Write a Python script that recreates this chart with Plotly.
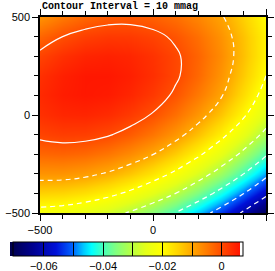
import plotly.graph_objects as go

# grid coordinates (same for x and y)
x_vals = [-500, -400, -300, -200, -100, 0, 100, 200, 300, 400, 500]
y_vals = [-500, -400, -300, -200, -100, 0, 100, 200, 300, 400, 500]

# field values (mag), rows from y=-500 to y=500, columns from x=-500 to x=500
z_rows = [
    [-0.02242, -0.02318, -0.02482, -0.02735, -0.03076, -0.03505, -0.04023, -0.04629, -0.05324, -0.06107, -0.06978],
    [-0.01438, -0.01478, -0.01606, -0.01822, -0.02127, -0.02520, -0.03002, -0.03571, -0.04230, -0.04977, -0.05812],
    [-0.00780, -0.00783, -0.00875, -0.01055, -0.01324, -0.01681, -0.02126, -0.02660, -0.03282, -0.03992, -0.04791],
    [-0.00268, -0.00235, -0.00290, -0.00434, -0.00666, -0.00987, -0.01396, -0.01893, -0.02479, -0.03153, -0.03916],
    [0.00099, 0.00169, 0.00149, 0.00042, -0.00154, -0.00439, -0.00812, -0.01273, -0.01822, -0.02460, -0.03186],
    [0.00321, 0.00426, 0.00443, 0.00372, 0.00212, -0.00036, -0.00373, -0.00798, -0.01311, -0.01913, -0.02603],
    [0.00396, 0.00538, 0.00591, 0.00556, 0.00433, 0.00221, -0.00079, -0.00468, -0.00945, -0.01560, -0.02250],
    [0.00327, 0.00504, 0.00594, 0.00595, 0.00508, 0.00332, 0.00068, -0.00284, -0.00770, -0.01350, -0.02000],
    [0.00111, 0.00325, 0.00451, 0.00488, 0.00437, 0.00298, 0.00070, -0.00246, -0.00680, -0.01240, -0.01870],
    [-0.00250, 0.00000, 0.00162, 0.00236, 0.00221, 0.00118, -0.00073, -0.00353, -0.00750, -0.01260, -0.01860],
    [-0.00757, -0.00470, -0.00272, -0.00162, -0.00140, -0.00207, -0.00362, -0.00606, -0.00938, -0.01420, -0.01980],
]

z_min = -0.0713
z_max = 0.0063

# colour bar ticks
cbar_tickvals = [-0.06, -0.05, -0.04, -0.03, -0.02, -0.01, 0.0]
cbar_ticktext = ["\u22120.06", "", "\u22120.04", "", "\u22120.02", "", "0"]

# axis ticks
axis_tickvals = [-500, 0, 500]
axis_ticktext = ["\u2212500", "0", "500"]

colorscale = [
    [0.000, "#00004a"],
    [0.100, "#000090"],
    [0.200, "#0010d8"],
    [0.270, "#0060ff"],
    [0.320, "#00c8ff"],
    [0.355, "#00ffff"],
    [0.400, "#40ffc0"],
    [0.460, "#80ff80"],
    [0.530, "#b8ff40"],
    [0.590, "#e4ff18"],
    [0.660, "#ffff00"],
    [0.730, "#ffd400"],
    [0.790, "#ffa800"],
    [0.860, "#ff7800"],
    [0.920, "#ff4c00"],
    [1.000, "#ff1400"],
]

fig = go.Figure()

fig.add_trace(go.Heatmap(
    x=x_vals, y=y_vals, z=z_rows,
    zsmooth="best",
    colorscale=colorscale, zmin=z_min, zmax=z_max,
    hoverinfo="skip",
    colorbar=dict(
        orientation="h",
        thickness=14, thicknessmode="pixels",
        len=230, lenmode="pixels",
        xref="container", x=152.5 / 275, xanchor="center",
        yref="container", y=(271 - 242) / 271, yanchor="top",
        xpad=0, ypad=0,
        outlinecolor="black", outlinewidth=1,
        tickmode="array", tickvals=cbar_tickvals, ticktext=cbar_ticktext,
        ticks="inside", ticklen=14, tickwidth=1, tickcolor="black",
        tickfont=dict(family="Liberation Sans", size=11, color="black"),
    ),
))

# negative contour levels: dashed white
fig.add_trace(go.Contour(
    x=x_vals, y=y_vals, z=z_rows,
    contours=dict(coloring="none", start=-0.07, end=-0.01, size=0.01),
    line=dict(color="white", width=1.2, dash="5px,4px", smoothing=1.3),
    showscale=False, hoverinfo="skip",
))

# zero contour level: solid white
fig.add_trace(go.Contour(
    x=x_vals, y=y_vals, z=z_rows,
    contours=dict(coloring="none", start=0.0, end=0.0, size=0.01),
    line=dict(color="white", width=1.2, smoothing=1.3),
    showscale=False, hoverinfo="skip",
))

axis_common = dict(
    range=[-500, 500],
    tickmode="array", tickvals=axis_tickvals, ticktext=axis_ticktext,
    ticks="outside", ticklen=6, tickwidth=1, tickcolor="black",
    minor=dict(dtick=100, tick0=0, ticks="outside", ticklen=4, tickwidth=1, tickcolor="black"),
    showline=True, linecolor="black", linewidth=1.5, mirror="allticks",
    showgrid=False, zeroline=False, automargin=False,
    tickfont=dict(family="Liberation Sans", size=11, color="black"),
)

fig.update_layout(
    width=275, height=271,
    margin=dict(l=40, r=9, t=17, b=58, autoexpand=False),
    paper_bgcolor="white", plot_bgcolor="white",
    xaxis=dict(**axis_common),
    yaxis=dict(**axis_common),
    showlegend=False,
    annotations=[dict(
        text="<b>Contour Interval = 10 mmag</b>",
        xref="paper", yref="paper", x=0.0, y=1.0 + 11 / 196,
        xanchor="left", yanchor="middle", showarrow=False,
        font=dict(family="Liberation Mono", size=10, color="black"),
    )],
)

fig.write_html(
    "out.html",
    config={"displayModeBar": False},
    post_script="document.body.style.margin='0px';",
)
